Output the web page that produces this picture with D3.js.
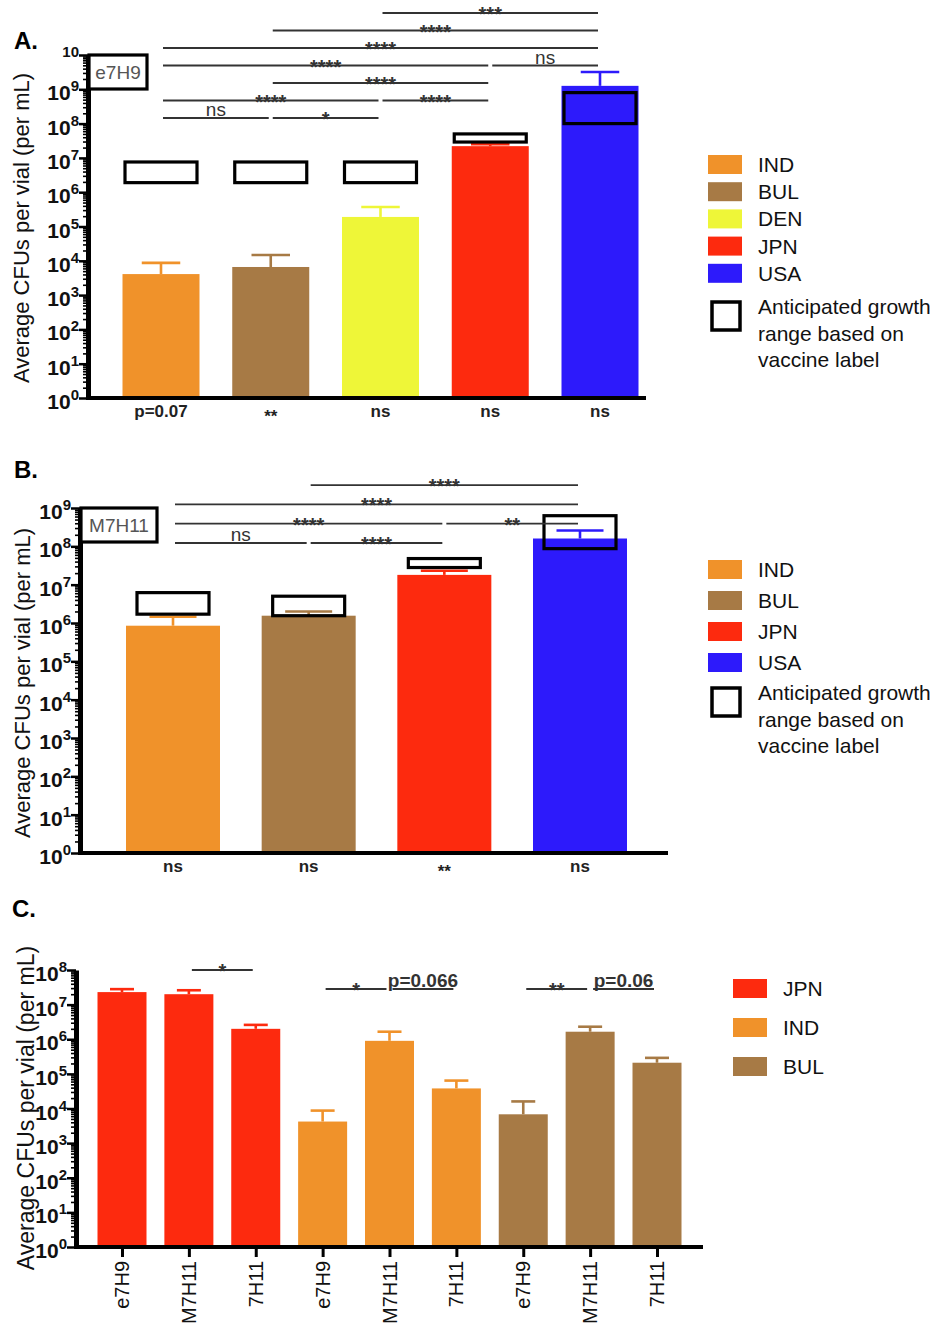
<!DOCTYPE html>
<html>
<head>
<meta charset="utf-8">
<script src="https://cdn.jsdelivr.net/npm/d3@7"></script>
<style>
  body { margin: 0; background: #fff; }
  svg text { font-family: "Liberation Sans", Arial, sans-serif; }
</style>
</head>
<body>
<div id="chart"></div>
<script>
// ------------------------------------
// Data
// ------------------------------------

// Panel A: e7H9
const aCountries = ["IND", "BUL", "DEN", "JPN", "USA"];
const aMeans     = [4100, 6600, 1.9e5, 2.2e7, 1.26e9];
const aErrTop    = [8700, 14800, 3.7e5, 2.5e7, 3.2e9];
const aRangeLow  = [1.9e6, 1.9e6, 1.9e6, 2.9e7, 1.0e8];
const aRangeHigh = [7.6e6, 7.6e6, 7.6e6, 5.0e7, 8.0e8];
const aBelow     = ["p=0.07", "**", "ns", "ns", "ns"];
const aBrackets  = [
  ["IND", "BUL", "ns", 0], ["BUL", "DEN", "*", 0],
  ["IND", "DEN", "****", 1], ["DEN", "JPN", "****", 1],
  ["BUL", "JPN", "****", 2],
  ["IND", "JPN", "****", 3], ["JPN", "USA", "ns", 3],
  ["IND", "USA", "****", 4],
  ["BUL", "USA", "****", 5],
  ["DEN", "USA", "***", 6]
];

// Panel B: M7H11
const bCountries = ["IND", "BUL", "JPN", "USA"];
const bMeans     = [8.5e5, 1.55e6, 1.8e7, 1.6e8];
const bErrTop    = [1.45e6, 2.0e6, 2.3e7, 2.6e8];
const bRangeLow  = [1.7e6, 1.55e6, 2.8e7, 8.7e7];
const bRangeHigh = [6.2e6, 5.0e6, 4.8e7, 6.3e8];
const bBelow     = ["ns", "ns", "**", "ns"];
const bBrackets  = [
  ["IND", "BUL", "ns", 0], ["BUL", "JPN", "****", 0],
  ["IND", "JPN", "****", 1], ["JPN", "USA", "**", 1],
  ["IND", "USA", "****", 2],
  ["BUL", "USA", "****", 3]
];

// Panel C: media comparison
const cCountries = ["JPN", "JPN", "JPN", "IND", "IND", "IND", "BUL", "BUL", "BUL"];
const cMedia     = ["e7H9", "M7H11", "7H11", "e7H9", "M7H11", "7H11", "e7H9", "M7H11", "7H11"];
const cMeans     = [2.3e7, 2.0e7, 2.0e6, 4200, 9.0e5, 3.8e4, 6800, 1.65e6, 2.1e5];
const cErrTop    = [2.8e7, 2.6e7, 2.6e6, 8700, 1.65e6, 6.4e4, 1.6e4, 2.3e6, 2.9e5];
const cBrackets  = [
  [1, 2, "*", 1],
  [3, 4, "*", 0], [4, 5, "p=0.066", 0],
  [6, 7, "**", 0], [7, 8, "p=0.06", 0]
];

const colors = {
  IND: "#F0922A", BUL: "#A77A45", DEN: "#EEF638",
  JPN: "#FD2A0E", USA: "#2D1AFB"
};
const legendNote = ["Anticipated growth", "range based on", "vaccine label"];
const yTitle = "Average CFUs per vial (per mL)";

// ------------------------------------
// SVG
// ------------------------------------
const svg = d3.select("#chart")
    .append("svg")
    .attr("width", 944)
    .attr("height", 1332)
    .style("background", "#fff");

// log axis with dense minor ticks, GraphPad style
function drawLogAxis(g, y, x0, maxExp, opts = {}) {
  const minor = [];
  for (let e = 0; e < maxExp; e++) {
    for (let m = 2; m <= 9; m++) minor.push(m * Math.pow(10, e));
  }
  const major = d3.range(0, maxExp + 1).map(e => Math.pow(10, e));

  g.append("g")
      .attr("transform", `translate(${x0},0)`)
      .call(d3.axisLeft(y).tickValues(minor).tickSize(5).tickFormat("").tickSizeOuter(0))
      .call(s => s.select(".domain").attr("stroke-width", 5))
      .call(s => s.selectAll(".tick line").attr("stroke-width", 1.6));

  g.append("g")
      .attr("transform", `translate(${x0},0)`)
      .call(d3.axisLeft(y).tickValues(major).tickSize(9).tickFormat("").tickSizeOuter(0))
      .call(s => s.select(".domain").remove())
      .call(s => s.selectAll(".tick line").attr("stroke-width", 2.5));

  const lab = g.append("g").selectAll("text")
      .data(major)
      .enter()
      .append("text")
      .attr("x", x0 - 9)
      .attr("y", d => y(d) + 11)
      .attr("text-anchor", "end")
      .attr("font-size", 21)
      .attr("font-weight", "bold")
      .attr("fill", "#111");

  lab.each(function(d, i) {
    const t = d3.select(this);
    const exp = Math.round(Math.log10(d));
    if (!(opts.clipTop && i === major.length - 1)) t.append("tspan").text("10");
    t.append("tspan")
        .attr("dy", -9)
        .attr("font-size", 15)
        .text(exp);
  });
}

function drawTitle(g, x, yMid, size) {
  g.append("text")
      .attr("transform", `translate(${x},${yMid}) rotate(-90)`)
      .attr("text-anchor", "middle")
      .attr("dominant-baseline", "central")
      .attr("font-size", size)
      .attr("fill", "#111")
      .text(yTitle);
}

function drawBrackets(g, list, xPos, tierY, inset) {
  list.forEach(([from, to, label, tier]) => {
    const x1 = xPos(from) + inset;
    const x2 = xPos(to) - inset;
    const yy = tierY(tier);
    g.append("line")
        .attr("x1", x1).attr("x2", x2)
        .attr("y1", yy).attr("y2", yy)
        .attr("stroke", "#333")
        .attr("stroke-width", 1.8);
    const isStar = label.startsWith("*");
    const isP = label.startsWith("p=");
    g.append("text")
        .attr("x", (x1 + x2) / 2)
        .attr("y", isStar ? yy + 8 : yy - 2)
        .attr("text-anchor", "middle")
        .attr("font-size", isStar ? 20 : 19)
        .attr("font-weight", isStar || isP ? "bold" : "normal")
        .attr("fill", "#333")
        .text(label);
  });
}

function drawLegend(g, x, y0, step, keys, withNote, noteY) {
  g.selectAll("rect.sw")
      .data(keys)
      .enter()
      .append("rect")
      .attr("class", "sw")
      .attr("x", x)
      .attr("y", (d, i) => y0 + i * step)
      .attr("width", 34)
      .attr("height", 19)
      .attr("fill", d => colors[d]);

  g.selectAll("text.lg")
      .data(keys)
      .enter()
      .append("text")
      .attr("class", "lg")
      .attr("x", x + 50)
      .attr("y", (d, i) => y0 + i * step + 17)
      .attr("font-size", 21)
      .attr("fill", "#111")
      .text(d => d);

  if (withNote) {
    g.append("rect")
        .attr("x", x + 4).attr("y", noteY)
        .attr("width", 28).attr("height", 28)
        .attr("fill", "none")
        .attr("stroke", "#000")
        .attr("stroke-width", 3.5);
    g.selectAll("text.note")
        .data(legendNote)
        .enter()
        .append("text")
        .attr("class", "note")
        .attr("x", x + 50)
        .attr("y", (d, i) => noteY + 12 + i * 26.5)
        .attr("font-size", 21)
        .attr("fill", "#111")
        .text(d => d);
  }
}

// ------------------------------------
// Panel with anticipated range boxes (A and B)
// ------------------------------------
function drawRangePanel(cfg) {
  const g = svg.append("g");
  const y = d3.scaleLog().domain([1, Math.pow(10, cfg.maxExp)]).range([cfg.yBottom, cfg.yTop]);
  const x = d3.scalePoint().domain(cfg.countries).range(cfg.xRange);

  const rows = cfg.countries.map((c, i) => ({
    c, mean: cfg.means[i], err: cfg.errTop[i],
    lo: cfg.rangeLow[i], hi: cfg.rangeHigh[i], below: cfg.below[i]
  }));

  // bars
  g.selectAll("rect.bar")
      .data(rows)
      .enter()
      .append("rect")
      .attr("class", "bar")
      .attr("x", d => x(d.c) - cfg.barW / 2)
      .attr("y", d => y(d.mean))
      .attr("width", cfg.barW)
      .attr("height", d => y(1) - y(d.mean))
      .attr("fill", d => colors[d.c]);

  // error bars
  const eb = g.selectAll("g.err").data(rows).enter().append("g")
      .attr("stroke", d => colors[d.c]).attr("stroke-width", 2.6);
  eb.append("line")
      .attr("x1", d => x(d.c)).attr("x2", d => x(d.c))
      .attr("y1", d => y(d.mean)).attr("y2", d => y(d.err));
  eb.append("line")
      .attr("x1", d => x(d.c) - cfg.barW * 0.25).attr("x2", d => x(d.c) + cfg.barW * 0.25)
      .attr("y1", d => y(d.err)).attr("y2", d => y(d.err));

  // anticipated range boxes
  g.selectAll("rect.range")
      .data(rows)
      .enter()
      .append("rect")
      .attr("class", "range")
      .attr("x", d => x(d.c) - 36)
      .attr("y", d => y(d.hi))
      .attr("width", 72)
      .attr("height", d => y(d.lo) - y(d.hi))
      .attr("fill", "none")
      .attr("stroke", "#000")
      .attr("stroke-width", 3.2);

  // x axis line
  g.append("line")
      .attr("x1", cfg.axisX - 2).attr("x2", cfg.xEnd)
      .attr("y1", y(1)).attr("y2", y(1))
      .attr("stroke", "#000").attr("stroke-width", 4);

  drawLogAxis(g, y, cfg.axisX, cfg.maxExp, { clipTop: cfg.clipTop });
  drawTitle(g, cfg.titleX, cfg.titleY, 22);

  // medium label box
  g.append("rect")
      .attr("x", cfg.axisX + 1).attr("y", cfg.yTop)
      .attr("width", cfg.mediumW).attr("height", 34)
      .attr("fill", "#fff").attr("stroke", "#000").attr("stroke-width", 3.2);
  g.append("text")
      .attr("x", cfg.axisX + 1 + cfg.mediumW / 2).attr("y", cfg.yTop + 24)
      .attr("text-anchor", "middle")
      .attr("font-size", 19)
      .attr("fill", "#555")
      .text(cfg.medium);

  // labels under bars
  g.selectAll("text.below")
      .data(rows)
      .enter()
      .append("text")
      .attr("class", "below")
      .attr("x", d => x(d.c))
      .attr("y", d => y(1) + (d.below.startsWith("*") ? 24 : 19))
      .attr("text-anchor", "middle")
      .attr("font-size", 17)
      .attr("font-weight", "bold")
      .attr("fill", "#222")
      .text(d => d.below);

  drawBrackets(g, cfg.brackets, x, t => cfg.tierBase - t * cfg.tierStep, 2);

  g.append("text")
      .attr("x", 14).attr("y", cfg.letterY)
      .attr("font-size", 24).attr("font-weight", "bold")
      .text(cfg.letter);

  drawLegend(g, 708, cfg.legY0, cfg.legStep, cfg.countries, true, cfg.noteY);
}

drawRangePanel({
  letter: "A.", letterY: 49, medium: "e7H9", mediumW: 58,
  countries: aCountries, means: aMeans, errTop: aErrTop,
  rangeLow: aRangeLow, rangeHigh: aRangeHigh, below: aBelow, brackets: aBrackets,
  maxExp: 10, yBottom: 398, yTop: 55, axisX: 88, xEnd: 646, clipTop: true,
  xRange: [161, 600], barW: 77,
  tierBase: 118, tierStep: 17.5,
  titleX: 21, titleY: 228,
  legY0: 155, legStep: 27.2, noteY: 302
});

drawRangePanel({
  letter: "B.", letterY: 478, medium: "M7H11", mediumW: 76,
  countries: bCountries, means: bMeans, errTop: bErrTop,
  rangeLow: bRangeLow, rangeHigh: bRangeHigh, below: bBelow, brackets: bBrackets,
  maxExp: 9, yBottom: 853, yTop: 508, axisX: 80, xEnd: 668, clipTop: false,
  xRange: [173, 580], barW: 94,
  tierBase: 543, tierStep: 19.3,
  titleX: 22, titleY: 683,
  legY0: 560, legStep: 31, noteY: 688
});

// ------------------------------------
// Panel C
// ------------------------------------
(function drawPanelC() {
  const g = svg.append("g");
  const keys = cMedia.map((m, i) => i);
  const y = d3.scaleLog().domain([1, 1e8]).range([1247, 970]);
  const x = d3.scalePoint().domain(keys).range([122, 657]);
  const barW = 49;

  const rows = keys.map(i => ({ i, c: cCountries[i], m: cMedia[i], mean: cMeans[i], err: cErrTop[i] }));

  g.selectAll("rect.bar")
      .data(rows)
      .enter()
      .append("rect")
      .attr("x", d => x(d.i) - barW / 2)
      .attr("y", d => y(d.mean))
      .attr("width", barW)
      .attr("height", d => y(1) - y(d.mean))
      .attr("fill", d => colors[d.c]);

  const eb = g.selectAll("g.err").data(rows).enter().append("g")
      .attr("stroke", d => colors[d.c]).attr("stroke-width", 2.6);
  eb.append("line")
      .attr("x1", d => x(d.i)).attr("x2", d => x(d.i))
      .attr("y1", d => y(d.mean)).attr("y2", d => y(d.err));
  eb.append("line")
      .attr("x1", d => x(d.i) - 12).attr("x2", d => x(d.i) + 12)
      .attr("y1", d => y(d.err)).attr("y2", d => y(d.err));

  // x axis with ticks under each bar
  g.append("g")
      .attr("transform", `translate(0,${y(1)})`)
      .call(d3.axisBottom(x).tickSize(10).tickFormat("").tickSizeOuter(0))
      .call(s => s.select(".domain").remove())
      .call(s => s.selectAll(".tick line").attr("stroke-width", 3));
  g.append("line")
      .attr("x1", 74).attr("x2", 703)
      .attr("y1", y(1)).attr("y2", y(1))
      .attr("stroke", "#000").attr("stroke-width", 4);

  g.selectAll("text.xl")
      .data(rows)
      .enter()
      .append("text")
      .attr("transform", d => `translate(${x(d.i) + 7},${y(1) + 14}) rotate(-90)`)
      .attr("text-anchor", "end")
      .attr("font-size", 20)
      .attr("fill", "#111")
      .text(d => d.m);

  drawTitle(g, 26, 1108, 23);
  drawLogAxis(g, y, 76, 8);

  drawBrackets(g, cBrackets, x, t => 989 - t * 19, 3);

  g.append("text")
      .attr("x", 12).attr("y", 917)
      .attr("font-size", 24).attr("font-weight", "bold")
      .text("C.");

  drawLegend(g, 733, 979, 39, ["JPN", "IND", "BUL"], false);
})();
</script>
</body>
</html>
